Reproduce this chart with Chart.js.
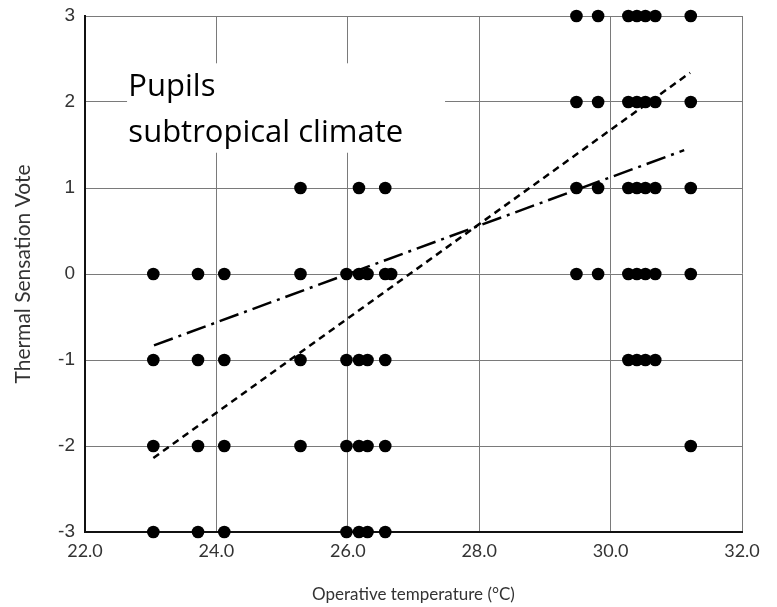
<!DOCTYPE html>
<html>
<head>
<meta charset="utf-8">
<script src="https://cdn.jsdelivr.net/npm/chart.js@4/dist/chart.umd.min.js"></script>
<style>
  html, body { margin: 0; padding: 0; background: #fff; }
  #wrap { width: 777px; height: 607px; }
</style>
</head>
<body>
<div id="wrap"><canvas id="c" width="777" height="607"></canvas></div>
<script>
// Thermal sensation votes of pupils against operative temperature (°C)
const votes = [3, 2, 1, 0, -1, -2, -3];
const tempsVote3  = [29.48, 29.81, 30.27, 30.40, 30.53, 30.68, 31.22];
const tempsVote2  = [29.48, 29.81, 30.27, 30.40, 30.53, 30.68, 31.22];
const tempsVote1  = [25.28, 26.17, 26.57, 29.48, 29.81, 30.27, 30.40, 30.53, 30.68, 31.22];
const tempsVote0  = [23.04, 23.72, 24.12, 25.28, 25.98, 26.17, 26.30, 26.57, 26.66,
                     29.48, 29.81, 30.27, 30.40, 30.53, 30.68, 31.22];
const tempsVoteM1 = [23.04, 23.72, 24.12, 25.28, 25.98, 26.17, 26.30, 26.57,
                     30.27, 30.40, 30.53, 30.68];
const tempsVoteM2 = [23.04, 23.72, 24.12, 25.28, 25.98, 26.17, 26.30, 26.57, 31.22];
const tempsVoteM3 = [23.04, 23.72, 24.12, 25.98, 26.17, 26.30, 26.57];
const tempsByVote = [tempsVote3, tempsVote2, tempsVote1, tempsVote0, tempsVoteM1, tempsVoteM2, tempsVoteM3];

// Regression lines (end points)
const dashedFitX = [23.04, 31.21];
const dashedFitY = [-2.14, 2.34];
const dashDotFitX = [23.05, 31.12];
const dashDotFitY = [-0.83, 1.44];

// Axis ticks
const xTicks = [22, 24, 26, 28, 30, 32];
const yTicks = [-3, -2, -1, 0, 1, 2, 3];

const labelLines = ['Pupils', 'subtropical climate'];

const scatterPoints = [];
votes.forEach((v, i) => tempsByVote[i].forEach(t => scatterPoints.push({ x: t, y: v })));

const toXY = (xs, ys) => xs.map((x, i) => ({ x, y: ys[i] }));

// White box with the group caption, drawn over the grid
const captionPlugin = {
  id: 'caption',
  beforeDatasetsDraw(chart) {
    const { ctx, scales: { x, y } } = chart;
    const l = x.getPixelForValue(22.64), r = x.getPixelForValue(27.48);
    const t = y.getPixelForValue(2.45), b = y.getPixelForValue(1.41);
    ctx.save();
    ctx.fillStyle = '#ffffff';
    ctx.fillRect(l, t, r - l, b - t);
    ctx.fillStyle = '#000000';
    ctx.font = '31px "Open Sans"';
    ctx.textBaseline = 'alphabetic';
    ctx.textAlign = 'left';
    const tx = x.getPixelForValue(22.66);
    ctx.fillText(labelLines[0], tx, y.getPixelForValue(2.07));
    ctx.fillText(labelLines[1], tx, y.getPixelForValue(1.53));
    ctx.restore();
  }
};

new Chart(document.getElementById('c'), {
  type: 'scatter',
  data: {
    datasets: [
      {
        type: 'line',
        data: toXY(dashedFitX, dashedFitY),
        borderColor: '#000',
        borderWidth: 2.5,
        borderDash: [7, 5],
        pointRadius: 0,
        fill: false
      },
      {
        type: 'line',
        data: toXY(dashDotFitX, dashDotFitY),
        borderColor: '#000',
        borderWidth: 2.5,
        borderDash: [20, 6, 3, 6],
        pointRadius: 0,
        fill: false
      },
      {
        data: scatterPoints,
        backgroundColor: '#000',
        borderWidth: 0,
        pointRadius: 6.3,
        pointHoverRadius: 6.3,
        clip: false
      }
    ]
  },
  options: {
    responsive: false,
    animation: false,
    events: [],
    layout: { padding: { top: 16, right: 35, bottom: 0, left: 0 } },
    plugins: { legend: { display: false }, tooltip: { enabled: false } },
    scales: {
      x: {
        type: 'linear',
        min: 22, max: 32,
        afterBuildTicks: s => { s.ticks = xTicks.map(v => ({ value: v })); },
        afterFit: s => { s.height = 75; s.paddingLeft = 0; s.paddingRight = 0; },
        ticks: {
          padding: 8,
          color: '#333',
          font: { family: 'Lato', size: 18 },
          callback: v => Number(v).toFixed(1),
          maxRotation: 0
        },
        grid: { color: '#7a7a7a', lineWidth: 1, drawTicks: false },
        border: { color: '#111', width: 2 },
        title: {
          display: true,
          text: 'Operative temperature (°C)',
          color: '#333',
          font: { family: 'Lato', size: 17 },
          padding: { top: 0, bottom: 2 }
        }
      },
      y: {
        type: 'linear',
        min: -3, max: 3,
        afterBuildTicks: s => { s.ticks = yTicks.map(v => ({ value: v })); },
        afterFit: s => { s.width = 85; s.paddingTop = 0; s.paddingBottom = 0; },
        ticks: {
          padding: 10,
          color: '#333',
          font: { family: 'Liberation Sans', size: 19 },
          callback: v => String(v)
        },
        grid: { color: '#7a7a7a', lineWidth: 1, drawTicks: false },
        border: { color: '#111', width: 2 },
        title: {
          display: true,
          text: 'Thermal Sensation Vote',
          color: '#333',
          font: { family: 'Lato', size: 21 },
          padding: { top: 11, bottom: 0 }
        }
      }
    }
  },
  plugins: [captionPlugin]
});
</script>
</body>
</html>
